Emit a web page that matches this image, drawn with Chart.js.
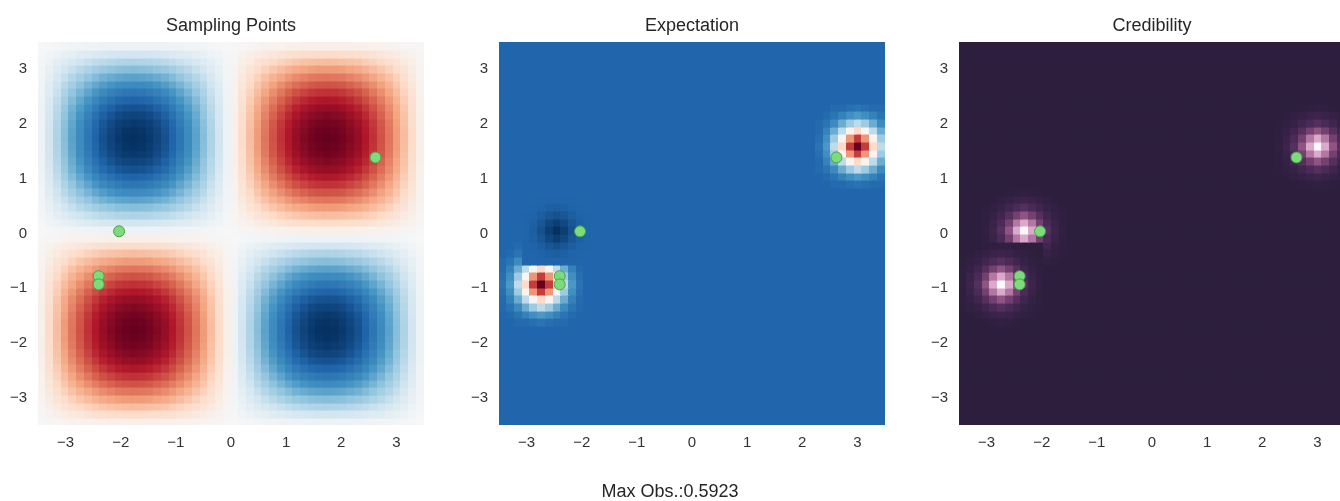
<!DOCTYPE html>
<html>
<head>
<meta charset="utf-8">
<script src="https://cdn.jsdelivr.net/npm/chart.js@4.4.1/dist/chart.umd.min.js"></script>
<style>
  html, body { margin: 0; padding: 0; background: #fff; overflow: hidden; width: 1340px; height: 501px; position: relative; }
  canvas { position: absolute; top: 0; }
  #foot { position: absolute; left: 0; width: 1340px; top: 481px; text-align: center;
          font: 18px "Liberation Sans", Arial, sans-serif; color: #262626; line-height: 21px; }
</style>
</head>
<body>
<canvas id="c0" width="462" height="501" style="left:0px"></canvas>
<canvas id="c1" width="462" height="501" style="left:461px"></canvas>
<canvas id="c2" width="462" height="501" style="left:921px"></canvas>
<div id="foot"></div>
<script>
// ---- data ----
const GRID_MIN = -3.5, GRID_MAX = 3.5, CELLS = 50;
const tickValues = [-3, -2, -1, 0, 1, 2, 3];
const tickLabels = ['\u22123', '\u22122', '\u22121', '0', '1', '2', '3'];
const panelTitles = ['Sampling Points', 'Expectation', 'Credibility'];
const footerText = 'Max Obs.:0.5923';

// observed sampling locations
const sampleX = [-2.03, -2.40, -2.40, 2.62];
const sampleY = [0.04, -0.78, -0.93, 1.39];

// objective surface: separable wave, one profile value per grid column / row
const waveProfile = [
  -0.06, -0.19, -0.31, -0.43, -0.54, -0.64, -0.73, -0.81, -0.88, -0.93,
  -0.97, -0.99, -1.00, -0.99, -0.97, -0.93, -0.88, -0.81, -0.73, -0.64,
  -0.54, -0.43, -0.31, -0.19, -0.06,
   0.06,  0.19,  0.31,  0.43,  0.54,  0.64,  0.73,  0.81,  0.88,  0.93,
   0.97,  0.99,  1.00,  0.99,  0.97,  0.93,  0.88,  0.81,  0.73,  0.64,
   0.54,  0.43,  0.31,  0.19,  0.06
];

// expectation surface (colour-scale position 0..1)
const expBackground = 0.10;
const expBlobCol   = [5, 46, 7];
const expBlobRow   = [18, 36, 25];
const expBlobKind  = ['peak', 'peak', 'dip'];
const expPeakPatch = [
  [0.10, 0.10, 0.11, 0.11, 0.12, 0.13, 0.12, 0.11, 0.11, 0.10, 0.10],
  [0.10, 0.11, 0.13, 0.16, 0.19, 0.21, 0.19, 0.16, 0.13, 0.11, 0.10],
  [0.11, 0.13, 0.18, 0.25, 0.32, 0.37, 0.32, 0.25, 0.18, 0.13, 0.11],
  [0.11, 0.16, 0.25, 0.37, 0.51, 0.60, 0.51, 0.37, 0.25, 0.16, 0.11],
  [0.12, 0.19, 0.32, 0.51, 0.72, 0.85, 0.72, 0.51, 0.32, 0.19, 0.12],
  [0.13, 0.21, 0.37, 0.60, 0.85, 1.00, 0.85, 0.60, 0.37, 0.21, 0.13],
  [0.12, 0.19, 0.32, 0.51, 0.72, 0.85, 0.72, 0.51, 0.32, 0.19, 0.12],
  [0.11, 0.16, 0.25, 0.37, 0.51, 0.60, 0.51, 0.37, 0.25, 0.16, 0.11],
  [0.11, 0.13, 0.18, 0.25, 0.32, 0.37, 0.32, 0.25, 0.18, 0.13, 0.11],
  [0.10, 0.11, 0.13, 0.16, 0.19, 0.21, 0.19, 0.16, 0.13, 0.11, 0.10],
  [0.10, 0.10, 0.11, 0.11, 0.12, 0.13, 0.12, 0.11, 0.11, 0.10, 0.10]
];
const expDipPatch = [
  [0.100, 0.099, 0.098, 0.097, 0.096, 0.097, 0.098, 0.099, 0.100],
  [0.099, 0.098, 0.094, 0.089, 0.085, 0.089, 0.094, 0.098, 0.099],
  [0.098, 0.094, 0.084, 0.070, 0.060, 0.070, 0.084, 0.094, 0.098],
  [0.097, 0.089, 0.070, 0.044, 0.025, 0.044, 0.070, 0.089, 0.097],
  [0.096, 0.085, 0.060, 0.025, 0.000, 0.025, 0.060, 0.085, 0.096],
  [0.097, 0.089, 0.070, 0.044, 0.025, 0.044, 0.070, 0.089, 0.097],
  [0.098, 0.094, 0.084, 0.070, 0.060, 0.070, 0.084, 0.094, 0.098],
  [0.099, 0.098, 0.094, 0.089, 0.085, 0.089, 0.094, 0.098, 0.099],
  [0.100, 0.099, 0.098, 0.097, 0.096, 0.097, 0.098, 0.099, 0.100]
];

// credibility surface (colour-scale position 0..1)
const credBackground = 0.0;
const credBlobCol = [8, 5, 46];
const credBlobRow = [25, 18, 36];
const credPatch = [
  [0.00, 0.00, 0.00, 0.01, 0.02, 0.03, 0.02, 0.01, 0.00, 0.00, 0.00],
  [0.00, 0.01, 0.03, 0.05, 0.08, 0.10, 0.08, 0.05, 0.03, 0.01, 0.00],
  [0.01, 0.03, 0.06, 0.13, 0.20, 0.25, 0.20, 0.13, 0.06, 0.03, 0.01],
  [0.02, 0.05, 0.13, 0.25, 0.40, 0.50, 0.40, 0.25, 0.13, 0.05, 0.02],
  [0.02, 0.08, 0.20, 0.40, 0.64, 0.80, 0.64, 0.40, 0.20, 0.08, 0.02],
  [0.03, 0.10, 0.25, 0.50, 0.80, 1.00, 0.80, 0.50, 0.25, 0.10, 0.03],
  [0.02, 0.08, 0.20, 0.40, 0.64, 0.80, 0.64, 0.40, 0.20, 0.08, 0.02],
  [0.02, 0.05, 0.13, 0.25, 0.40, 0.50, 0.40, 0.25, 0.13, 0.05, 0.02],
  [0.01, 0.03, 0.06, 0.13, 0.20, 0.25, 0.20, 0.13, 0.06, 0.03, 0.01],
  [0.00, 0.01, 0.03, 0.05, 0.08, 0.10, 0.08, 0.05, 0.03, 0.01, 0.00],
  [0.00, 0.00, 0.00, 0.01, 0.02, 0.03, 0.02, 0.01, 0.00, 0.00, 0.00]
];

// ---- colour maps ----
const rdbuR = ['#053061', '#2166ac', '#4393c3', '#92c5de', '#d1e5f0', '#f7f7f7',
               '#fddbc7', '#f4a582', '#d6604d', '#b2182b', '#67001f'];
const purpleMap = ['#2d1e3e', '#4a2a58', '#74406f', '#a86a98', '#dbaacb', '#fff8fb'];

function hexRgb(h) { return [1, 3, 5].map(k => parseInt(h.substr(k, 2), 16)); }
function colorAt(stops, v) {
  v = Math.max(0, Math.min(1, v));
  const p = v * (stops.length - 1), k = Math.min(stops.length - 2, Math.floor(p)), f = p - k;
  const a = hexRgb(stops[k]), b = hexRgb(stops[k + 1]);
  return 'rgb(' + a.map((c, n) => Math.round(c + (b[n] - c) * f)).join(',') + ')';
}

// ---- grids ----
function filledGrid(v) { return Array.from({ length: CELLS }, () => new Array(CELLS).fill(v)); }
function stamp(grid, col, row, patch) {
  const k = (patch.length - 1) / 2;
  for (let dy = -k; dy <= k; dy++) for (let dx = -k; dx <= k; dx++) {
    const r = row + dy, c = col + dx;
    if (r >= 0 && r < CELLS && c >= 0 && c < CELLS) grid[r][c] = patch[dy + k][dx + k];
  }
}
const sampleGrid = filledGrid(0);
for (let j = 0; j < CELLS; j++) for (let i = 0; i < CELLS; i++)
  sampleGrid[j][i] = 0.5 + 0.5 * waveProfile[i] * waveProfile[j];

const expGrid = filledGrid(expBackground);
expBlobCol.forEach((c, n) => stamp(expGrid, c, expBlobRow[n], expBlobKind[n] === 'peak' ? expPeakPatch : expDipPatch));

const credGrid = filledGrid(credBackground);
credBlobCol.forEach((c, n) => stamp(credGrid, c, credBlobRow[n], credPatch));

// ---- drawing ----
const FONT = '"Liberation Sans", Arial, sans-serif';
const TICK_COLOR = '#333333';

function heatmapPlugin(grid, cmap) {
  return {
    id: 'heatmap',
    beforeDatasetsDraw(chart) {
      const xs = chart.scales.x, ys = chart.scales.y, ctx = chart.ctx, a = chart.chartArea;
      const step = (GRID_MAX - GRID_MIN) / CELLS;
      ctx.save();
      ctx.beginPath(); ctx.rect(a.left, a.top, a.right - a.left, a.bottom - a.top); ctx.clip();
      for (let j = 0; j < CELLS; j++) {
        for (let i = 0; i < CELLS; i++) {
          const x0 = xs.getPixelForValue(GRID_MIN + i * step);
          const x1 = xs.getPixelForValue(GRID_MIN + (i + 1) * step);
          const y0 = ys.getPixelForValue(GRID_MIN + (j + 1) * step);
          const y1 = ys.getPixelForValue(GRID_MIN + j * step);
          ctx.fillStyle = colorAt(cmap, grid[j][i]);
          ctx.fillRect(Math.floor(x0), Math.floor(y0), Math.ceil(x1) - Math.floor(x0) + 0.5, Math.ceil(y1) - Math.floor(y0) + 0.5);
        }
      }
      ctx.restore();
    }
  };
}

// panel heading, centred over the plot area
function headingPlugin(text) {
  return {
    id: 'heading',
    afterDraw(chart) {
      const ctx = chart.ctx, a = chart.chartArea;
      ctx.save();
      ctx.font = '18px ' + FONT;
      ctx.fillStyle = '#262626';
      ctx.textAlign = 'center';
      ctx.textBaseline = 'middle';
      ctx.fillText(text, (a.left + a.right) / 2, 26);
      ctx.restore();
    }
  };
}

function axis(isX) {
  return {
    type: 'linear', min: GRID_MIN, max: GRID_MAX,
    afterBuildTicks: s => { s.ticks = tickValues.map(v => ({ value: v })); },
    afterFit: s => { if (isX) s.height = 76; else s.width = 38; },
    grid: { display: false, drawTicks: false },
    border: { display: false },
    ticks: {
      autoSkip: false, maxRotation: 0, padding: isX ? 9 : 11,
      color: TICK_COLOR, font: { family: FONT, size: 15 },
      callback: v => tickLabels[tickValues.indexOf(v)]
    }
  };
}

function makePanel(id, title, grid, cmap) {
  new Chart(document.getElementById(id), {
    type: 'scatter',
    data: {
      datasets: [{
        data: sampleX.map((x, n) => ({ x: x, y: sampleY[n] })),
        pointRadius: 5.5, pointHoverRadius: 5.5,
        backgroundColor: '#7ddc7a', borderColor: '#4f9e4c', borderWidth: 1
      }]
    },
    options: {
      responsive: false, animation: false,
      layout: { padding: { left: 0, right: 38, top: 42, bottom: 0 } },
      plugins: { legend: { display: false }, tooltip: { enabled: false } },
      scales: { x: axis(true), y: axis(false) }
    },
    plugins: [heatmapPlugin(grid, cmap), headingPlugin(title)]
  });
}

makePanel('c0', panelTitles[0], sampleGrid, rdbuR);
makePanel('c1', panelTitles[1], expGrid, rdbuR);
makePanel('c2', panelTitles[2], credGrid, purpleMap);
document.getElementById('foot').textContent = footerText;
</script>
</body>
</html>
